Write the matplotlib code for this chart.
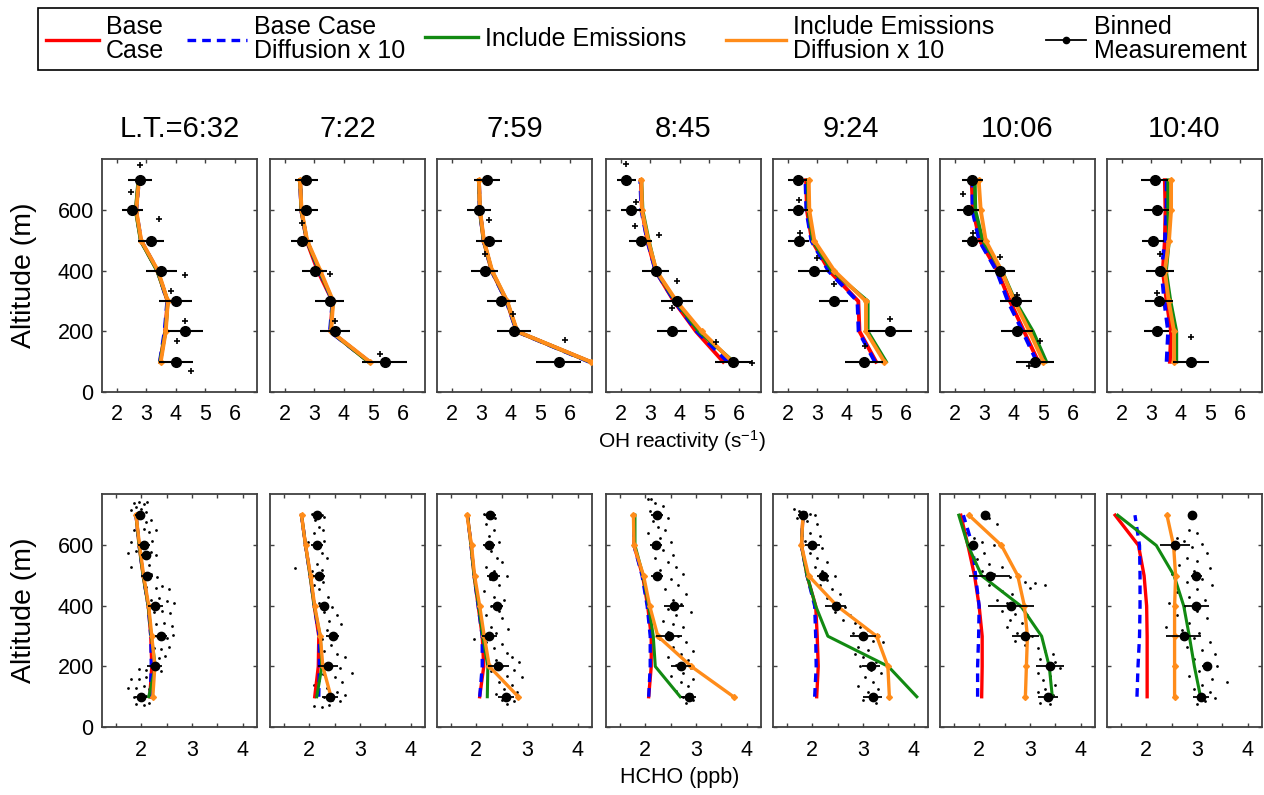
import matplotlib.pyplot as plt
from matplotlib.lines import Line2D
from matplotlib.patches import Rectangle

plt.rcParams['font.family'] = ['Liberation Sans', 'DejaVu Sans']
plt.rcParams['mathtext.fontset'] = 'custom'
plt.rcParams['mathtext.rm'] = 'Liberation Sans'
plt.rcParams['mathtext.default'] = 'regular'

# ---- data ----
times = ['L.T.=6:32', '7:22', '7:59', '8:45', '9:24', '10:06', '10:40']
alts = [100, 200, 300, 400, 500, 600, 700]

# OH reactivity model profiles (s-1), one row per time, altitudes 100..700
oh_base = [
    [3.47, 3.64, 3.72, 3.38, 2.82, 2.65, 2.74],
    [4.85, 3.55, 3.62, 3.12, 2.74, 2.56, 2.52],
    [6.68, 4.20, 3.86, 3.35, 3.08, 2.95, 2.92],
    [5.47, 4.55, 3.80, 3.18, 2.90, 2.72, 2.68],
    [4.99, 4.43, 4.39, 3.41, 2.82, 2.65, 2.62],
    [4.83, 4.35, 3.87, 3.45, 2.85, 2.62, 2.57],
    [3.63, 3.67, 3.52, 3.39, 3.46, 3.48, 3.46],
]
oh_base_diff = [
    [3.46, 3.62, 3.71, 3.39, 2.82, 2.66, 2.75],
    [4.86, 3.53, 3.62, 3.17, 2.75, 2.56, 2.52],
    [6.65, 4.20, 3.85, 3.35, 3.08, 2.95, 2.92],
    [5.62, 4.58, 3.82, 3.18, 2.90, 2.70, 2.66],
    [4.95, 4.40, 4.36, 3.38, 2.80, 2.63, 2.60],
    [4.78, 4.30, 3.80, 3.42, 2.83, 2.60, 2.60],
    [3.52, 3.57, 3.44, 3.35, 3.46, 3.52, 3.52],
]
oh_emis = [
    [3.47, 3.65, 3.73, 3.37, 2.81, 2.64, 2.73],
    [4.83, 3.56, 3.63, 3.18, 2.75, 2.56, 2.52],
    [6.68, 4.21, 3.87, 3.36, 3.08, 2.95, 2.92],
    [5.82, 4.65, 3.86, 3.20, 2.95, 2.74, 2.70],
    [5.33, 4.71, 4.71, 3.50, 2.85, 2.70, 2.68],
    [5.10, 4.65, 4.05, 3.60, 2.95, 2.70, 2.68],
    [3.85, 3.85, 3.65, 3.50, 3.60, 3.57, 3.57],
]
oh_emis_diff = [
    [3.49, 3.66, 3.73, 3.40, 2.83, 2.66, 2.75],
    [4.88, 3.57, 3.64, 3.21, 2.76, 2.57, 2.52],
    [6.70, 4.22, 3.88, 3.37, 3.09, 2.96, 2.92],
    [5.78, 4.74, 3.89, 3.21, 2.93, 2.72, 2.70],
    [5.27, 4.65, 4.65, 3.58, 2.90, 2.73, 2.71],
    [5.00, 4.53, 4.02, 3.59, 3.05, 2.88, 2.81],
    [3.77, 3.77, 3.59, 3.46, 3.60, 3.67, 3.67],
]
# binned OH reactivity measurement (mean and half spread)
oh_meas = [
    [4.00, 4.32, 4.00, 3.51, 3.15, 2.53, 2.78],
    [5.38, 3.71, 3.52, 3.01, 2.59, 2.73, 2.73],
    [5.63, 4.10, 3.68, 3.11, 3.26, 2.92, 3.20],
    [5.81, 3.74, 3.89, 3.18, 2.67, 2.34, 2.19],
    [4.58, 5.47, 3.55, 2.88, 2.37, 2.34, 2.34],
    [4.72, 4.11, 4.07, 3.54, 2.60, 2.45, 2.60],
    [4.35, 3.19, 3.25, 3.30, 3.05, 3.19, 3.11],
]
oh_err = [
    [0.57, 0.60, 0.56, 0.53, 0.44, 0.36, 0.40],
    [0.75, 0.50, 0.48, 0.43, 0.38, 0.38, 0.38],
    [0.76, 0.58, 0.48, 0.45, 0.43, 0.41, 0.44],
    [0.62, 0.51, 0.54, 0.45, 0.39, 0.34, 0.31],
    [0.64, 0.74, 0.48, 0.52, 0.35, 0.33, 0.32],
    [0.65, 0.55, 0.55, 0.50, 0.36, 0.36, 0.36],
    [0.60, 0.42, 0.47, 0.47, 0.38, 0.42, 0.45],
]
# individual OH reactivity samples (value, altitude)
oh_points = [
    [(2.78, 750), (2.48, 662), (3.43, 573), (4.32, 388), (3.85, 333), (4.32, 236), (4.04, 169), (4.50, 69)],
    [(2.59, 557), (3.52, 391), (3.71, 236), (5.21, 127)],
    [(3.26, 567), (3.12, 457), (4.08, 259), (5.82, 173)],
    [(2.19, 755), (2.51, 627), (2.47, 548), (3.31, 520), (3.89, 366), (3.74, 278), (5.24, 165), (6.45, 95)],
    [(2.37, 634), (2.43, 526), (2.98, 443), (3.55, 358), (5.47, 242), (4.60, 151)],
    [(2.27, 655), (2.62, 526), (3.54, 447), (4.11, 320), (4.90, 170), (4.53, 85)],
    [(3.28, 455), (3.19, 328), (4.35, 182)],
]

# HCHO model profiles (ppb)
hcho_base = [
    [2.17, 2.21, 2.19, 2.14, 2.04, 1.96, 1.90],
    [2.11, 2.18, 2.19, 2.10, 2.02, 1.93, 1.85],
    [2.07, 2.15, 2.12, 2.04, 1.96, 1.90, 1.83],
    [2.07, 2.12, 2.12, 2.05, 1.95, 1.78, 1.78],
    [2.09, 2.12, 2.10, 2.07, 1.90, 1.79, 1.82],
    [2.05, 2.06, 2.06, 2.00, 1.91, 1.78, 1.64],
    [2.02, 2.02, 2.02, 2.01, 1.96, 1.85, 1.39],
]
hcho_base_diff = [
    [2.18, 2.20, 2.19, 2.14, 2.04, 1.96, 1.90],
    [2.19, 2.20, 2.20, 2.10, 2.02, 1.93, 1.85],
    [2.07, 2.12, 2.12, 2.04, 1.96, 1.90, 1.83],
    [2.07, 2.10, 2.10, 2.04, 1.94, 1.78, 1.78],
    [2.05, 2.08, 2.07, 2.05, 1.90, 1.79, 1.82],
    [1.97, 1.97, 1.99, 2.00, 1.93, 1.87, 1.69],
    [1.82, 1.84, 1.87, 1.88, 1.88, 1.87, 1.78],
]
hcho_emis = [
    [2.15, 2.28, 2.20, 2.14, 2.04, 1.96, 1.90],
    [2.15, 2.25, 2.22, 2.10, 2.02, 1.93, 1.85],
    [2.22, 2.23, 2.13, 2.05, 1.96, 1.90, 1.83],
    [2.69, 2.20, 2.16, 2.07, 1.96, 1.80, 1.80],
    [4.06, 3.50, 2.31, 2.07, 1.90, 1.79, 1.82],
    [3.44, 3.38, 3.23, 2.82, 2.05, 1.78, 1.60],
    [3.07, 2.95, 2.85, 2.74, 2.55, 2.20, 1.44],
]
hcho_emis_diff = [
    [2.23, 2.27, 2.21, 2.15, 2.05, 1.97, 1.90],
    [2.43, 2.27, 2.22, 2.11, 2.03, 1.93, 1.85],
    [2.83, 2.26, 2.16, 2.07, 1.97, 1.91, 1.82],
    [3.74, 2.91, 2.25, 2.09, 1.97, 1.78, 1.77],
    [3.52, 3.49, 3.27, 2.49, 1.93, 1.79, 1.82],
    [2.91, 2.93, 2.95, 2.89, 2.76, 2.44, 1.80],
    [2.56, 2.56, 2.56, 2.56, 2.58, 2.54, 2.41],
]
# binned HCHO measurement
hcho_meas_alt = [
    [100, 200, 300, 400, 500, 570, 600, 700],
    alts, alts, alts, alts, alts, alts,
]
hcho_meas = [
    [2.00, 2.27, 2.39, 2.28, 2.11, 2.10, 2.05, 1.98],
    [2.41, 2.37, 2.46, 2.29, 2.20, 2.16, 2.16],
    [2.59, 2.44, 2.26, 2.41, 2.34, 2.26, 2.28],
    [2.86, 2.70, 2.47, 2.57, 2.24, 2.21, 2.24],
    [3.19, 3.16, 3.00, 2.46, 2.22, 2.00, 1.82],
    [3.36, 3.39, 2.91, 2.62, 2.21, 1.88, 2.11],
    [3.08, 3.20, 2.74, 2.99, 2.99, 2.57, 2.90],
]
hcho_err = [
    [0.12, 0.15, 0.12, 0.15, 0.12, 0.10, 0.12, 0.10],
    [0.15, 0.20, 0.12, 0.10, 0.12, 0.12, 0.10],
    [0.15, 0.20, 0.15, 0.12, 0.12, 0.12, 0.12],
    [0.15, 0.20, 0.25, 0.20, 0.12, 0.12, 0.12],
    [0.18, 0.18, 0.26, 0.21, 0.12, 0.15, 0.10],
    [0.20, 0.28, 0.27, 0.45, 0.40, 0.10, 0.00],
    [0.15, 0.10, 0.34, 0.25, 0.10, 0.30, 0.00],
]
# individual HCHO samples (value, altitude)
hcho_dots = [
    [(1.85, 740), (1.95, 745), (2.05, 738), (2.12, 742), (1.90, 728), (2.00, 722), (1.80, 716), (2.10, 712),
     (1.90, 680), (2.10, 676), (2.20, 684), (1.85, 650), (2.05, 655), (2.15, 646), (2.30, 650),
     (1.80, 612), (1.95, 608), (2.22, 615), (1.75, 575), (1.90, 580), (2.05, 572), (2.20, 578), (2.30, 568),
     (2.00, 540), (2.15, 535), (1.80, 528), (2.05, 500), (2.20, 505), (2.32, 495),
     (2.10, 462), (2.30, 458), (2.42, 465), (2.55, 455), (2.20, 420), (2.35, 425), (2.50, 415), (2.65, 410),
     (2.25, 380), (2.42, 385), (2.57, 378), (2.30, 340), (2.45, 345), (2.60, 335), (2.32, 300), (2.50, 295),
     (2.62, 305), (2.25, 262), (2.40, 258), (2.55, 265), (2.20, 230), (2.35, 228), (2.47, 235),
     (1.95, 192), (2.10, 188), (2.25, 195), (2.40, 185), (1.80, 160), (1.95, 158), (2.10, 165), (2.22, 155),
     (1.75, 130), (1.90, 128), (2.05, 135), (2.15, 125), (1.85, 100), (1.95, 95), (2.10, 102), (2.20, 98),
     (1.90, 75), (2.05, 72), (2.15, 78)],
    [(2.05, 705), (2.25, 702), (2.30, 695), (2.12, 685), (2.20, 660), (2.10, 640), (2.28, 650), (1.98, 610),
     (2.30, 615), (2.18, 590), (2.25, 575), (1.72, 525), (2.15, 540), (2.35, 560), (2.05, 515), (2.25, 520),
     (2.28, 480), (2.10, 470), (2.20, 455), (2.38, 430), (2.20, 410), (2.45, 395), (2.30, 380), (2.55, 370),
     (2.40, 350), (2.62, 340), (2.35, 320), (2.50, 305), (2.25, 290), (2.43, 270), (2.30, 250), (2.55, 240),
     (2.70, 230), (2.20, 215), (2.40, 205), (2.60, 195), (2.85, 180), (2.28, 175), (2.50, 165), (2.65, 150),
     (2.10, 140), (2.35, 130), (2.55, 115), (2.70, 105), (2.30, 100), (2.45, 90), (2.10, 70), (2.25, 65),
     (2.40, 72), (2.60, 85)],
    [(2.15, 705), (2.30, 700), (2.38, 690), (2.20, 670), (2.35, 650), (2.25, 630), (2.45, 610), (2.18, 600),
     (2.30, 580), (2.42, 560), (2.50, 545), (2.20, 530), (2.35, 515), (2.60, 500), (2.28, 490), (2.45, 470),
     (2.15, 450), (2.35, 430), (2.55, 420), (2.30, 400), (2.45, 385), (2.20, 370), (2.50, 360), (2.10, 340),
     (2.30, 330), (2.62, 325), (2.40, 310), (1.95, 290), (2.20, 280), (2.50, 275), (2.35, 260), (2.60, 245),
     (2.70, 230), (2.85, 215), (2.40, 220), (2.50, 200), (2.75, 190), (2.30, 185), (2.60, 170), (2.90, 165),
     (2.45, 150), (2.70, 140), (2.55, 125), (2.80, 115), (2.40, 110), (2.65, 100), (2.50, 90), (2.75, 85),
     (2.60, 75)],
    [(2.05, 755), (2.12, 752), (2.20, 740), (2.35, 730), (2.10, 715), (2.30, 705), (2.45, 690), (2.15, 680),
     (2.25, 660), (2.40, 650), (2.05, 640), (2.30, 625), (2.50, 610), (2.15, 595), (2.35, 585), (2.55, 570),
     (2.20, 560), (2.45, 545), (2.60, 530), (2.30, 520), (2.75, 505), (2.50, 490), (2.65, 470), (2.40, 455),
     (2.80, 440), (2.55, 420), (2.70, 405), (2.45, 390), (2.90, 380), (2.60, 370), (2.35, 350), (2.55, 340),
     (2.75, 330), (2.45, 315), (2.65, 300), (2.30, 290), (2.80, 280), (2.55, 265), (2.95, 250), (2.70, 240),
     (2.45, 230), (2.85, 220), (2.60, 205), (2.90, 195), (2.75, 180), (2.50, 170), (2.95, 160), (2.70, 150),
     (2.85, 135), (2.60, 120), (2.90, 110), (2.75, 100), (2.95, 90), (2.80, 80)],
    [(1.65, 720), (1.75, 715), (1.85, 712), (1.95, 705), (2.05, 700), (1.70, 690), (1.90, 680), (2.10, 670),
     (1.80, 655), (1.95, 640), (2.15, 630), (1.85, 615), (2.00, 600), (2.20, 590), (1.95, 575), (2.10, 560),
     (2.30, 545), (2.05, 530), (2.20, 515), (2.45, 500), (2.30, 485), (2.15, 470), (2.40, 455), (2.55, 440),
     (2.30, 425), (2.50, 410), (2.65, 395), (2.45, 380), (2.75, 370), (2.60, 355), (2.85, 345), (2.95, 330),
     (3.10, 320), (2.80, 310), (3.30, 305), (3.00, 295), (3.20, 285), (3.40, 280), (2.90, 265), (3.10, 255),
     (2.85, 240), (3.00, 230), (3.25, 215), (2.95, 200), (3.15, 190), (3.35, 180), (3.05, 165), (3.20, 150),
     (2.90, 135), (3.30, 125), (3.10, 115), (3.20, 100), (3.00, 90), (3.25, 80)],
    [(2.20, 690), (2.35, 670), (1.75, 640), (1.90, 625), (2.05, 610), (2.30, 600), (1.85, 590), (2.10, 575),
     (1.95, 555), (2.20, 540), (2.45, 530), (2.05, 515), (2.30, 505), (2.60, 495), (2.90, 480), (3.10, 475),
     (3.30, 470), (3.00, 460), (2.20, 470), (2.45, 450), (2.65, 440), (2.35, 420), (2.55, 410), (2.80, 400),
     (2.45, 385), (2.70, 375), (2.95, 370), (2.60, 355), (2.85, 345), (2.55, 330), (2.75, 310), (3.05, 300),
     (2.70, 285), (2.90, 270), (3.15, 260), (3.30, 250), (3.45, 240), (3.20, 225), (3.50, 215), (3.35, 200),
     (3.60, 195), (3.15, 180), (3.40, 170), (3.25, 155), (3.50, 140), (3.30, 125), (3.15, 115), (3.45, 105),
     (3.30, 95), (3.20, 80), (3.40, 75)],
    [(2.85, 650), (3.00, 640), (2.60, 625), (2.75, 615), (3.10, 605), (2.90, 595), (2.55, 585), (3.20, 575),
     (2.80, 560), (3.00, 550), (2.65, 535), (3.25, 525), (2.95, 515), (2.50, 505), (3.10, 490), (2.80, 480),
     (3.30, 470), (3.00, 455), (2.60, 445), (2.85, 430), (3.15, 420), (2.45, 410), (2.75, 395), (3.00, 385),
     (2.60, 370), (3.20, 360), (2.85, 345), (2.40, 330), (2.70, 320), (3.05, 310), (2.95, 295), (3.25, 280),
     (2.80, 265), (3.10, 255), (3.35, 240), (2.95, 225), (3.20, 210), (3.40, 200), (3.05, 185), (2.85, 170),
     (3.30, 160), (3.60, 150), (3.10, 140), (2.95, 125), (3.25, 115), (3.05, 105), (3.35, 95), (3.15, 85),
     (3.00, 75)],
]

# ---- styling ----
RED, BLUE, GREEN, ORANGE = '#ff0000', '#0000ff', '#128a12', '#ff8c1a'
W, H = 1264, 795
lefts = [102, 270, 437, 606, 773, 940, 1107]
pw = 155

fig = plt.figure(figsize=(W / 100, H / 100), dpi=100)


def add_panel(x0, y0, y1):
    return fig.add_axes([x0 / W, 1 - y1 / H, pw / W, (y1 - y0) / H])


def style(ax, first):
    ax.set_ylim(0, 770)
    ax.set_yticks([0, 200, 400, 600])
    if not first:
        ax.set_yticklabels([])
    ax.tick_params(direction='in', top=True, right=True, length=3, width=1,
                   labelsize=15.5, color='#404040')
    ax.tick_params(axis='x', pad=9)
    ax.tick_params(axis='y', pad=6)
    for s in ax.spines.values():
        s.set_color('#404040')
        s.set_linewidth(1.3)


def draw_models(ax, r, b, g, o, lw):
    ax.plot(r, alts, color=RED, lw=lw, zorder=3)
    ax.plot(b, alts, color=BLUE, lw=lw, ls=(0, (2.6, 1.8)), zorder=3)
    ax.plot(g, alts, color=GREEN, lw=lw - 0.2, zorder=3)
    ax.plot(o, alts, color=ORANGE, lw=lw, marker='D', ms=3, zorder=3)


for i in range(7):
    # OH reactivity row
    ax = add_panel(lefts[i], 159, 392)
    style(ax, i == 0)
    ax.set_xlim(1.5, 6.75)
    ax.set_xticks([2, 3, 4, 5, 6])
    ax.set_title(times[i], fontsize=21, pad=16)
    draw_models(ax, oh_base[i], oh_base_diff[i], oh_emis[i], oh_emis_diff[i], 2.8)
    ax.errorbar(oh_meas[i], alts, xerr=oh_err[i], fmt='o', color='k', ms=7,
                elinewidth=1.5, capsize=0, zorder=5)
    px = [p[0] for p in oh_points[i]]
    py = [p[1] for p in oh_points[i]]
    ax.plot(px, py, '+', color='k', ms=4, mew=1.2, zorder=5)

    # HCHO row
    ax = add_panel(lefts[i], 494, 727)
    style(ax, i == 0)
    ax.set_xlim(1.23, 4.28)
    ax.set_xticks([1.5, 2, 2.5, 3, 3.5, 4])
    ax.set_xticklabels(['', '2', '', '3', '', '4'])
    dx = [p[0] for p in hcho_dots[i]]
    dy = [p[1] for p in hcho_dots[i]]
    ax.scatter(dx, dy, s=4, color='k', linewidths=0, zorder=2)
    draw_models(ax, hcho_base[i], hcho_base_diff[i], hcho_emis[i], hcho_emis_diff[i], 2.4)
    ax.errorbar(hcho_meas[i], hcho_meas_alt[i], xerr=hcho_err[i], fmt='o', color='k',
                ms=6, elinewidth=1.3, capsize=0, zorder=5)

# axis labels
for yc in [(159 + 392) / 2, (494 + 727) / 2]:
    fig.text(24 / W, 1 - yc / H, 'Altitude (m)', rotation=90, ha='center', va='center',
             fontsize=20.5)
fig.text(682 / W, 1 - 441 / H, 'OH reactivity (s$^{-1}$)', ha='center', va='center', fontsize=15)
fig.text(680 / W, 1 - 777 / H, 'HCHO (ppb)', ha='center', va='center', fontsize=15.5)

# legend: one entry per slot inside a common frame
leg_labels = ['Base\nCase', 'Base Case\nDiffusion x 10', 'Include Emissions',
              'Include Emissions\nDiffusion x 10', 'Binned\nMeasurement']
leg_handles = [
    Line2D([], [], color=RED, lw=2.4),
    Line2D([], [], color=BLUE, lw=2.4, ls=(0, (2.6, 1.8))),
    Line2D([], [], color=GREEN, lw=2.4),
    Line2D([], [], color=ORANGE, lw=2.4),
    Line2D([], [], color='k', lw=1.3, marker='o', ms=4.5),
]
leg_x = [46, 187, 425, 726, 1046]
leg_len = [2.1, 2.4, 2.1, 2.4, 1.6]
for h, lab, x, hl in zip(leg_handles, leg_labels, leg_x, leg_len):
    lg = fig.legend([h], [lab], loc='center left', bbox_to_anchor=(x / W, 1 - 39 / H),
                    frameon=False, fontsize=18, handlelength=hl, handletextpad=0.3,
                    borderpad=0, borderaxespad=0)
    for t in lg.get_texts():
        t.set_linespacing(1.05)
fig.add_artist(Rectangle((38 / W, 1 - 70 / H), 1220 / W, 62 / H, transform=fig.transFigure,
                         fill=False, ec='k', lw=1.2))

fig.savefig('out.png', dpi=100)
